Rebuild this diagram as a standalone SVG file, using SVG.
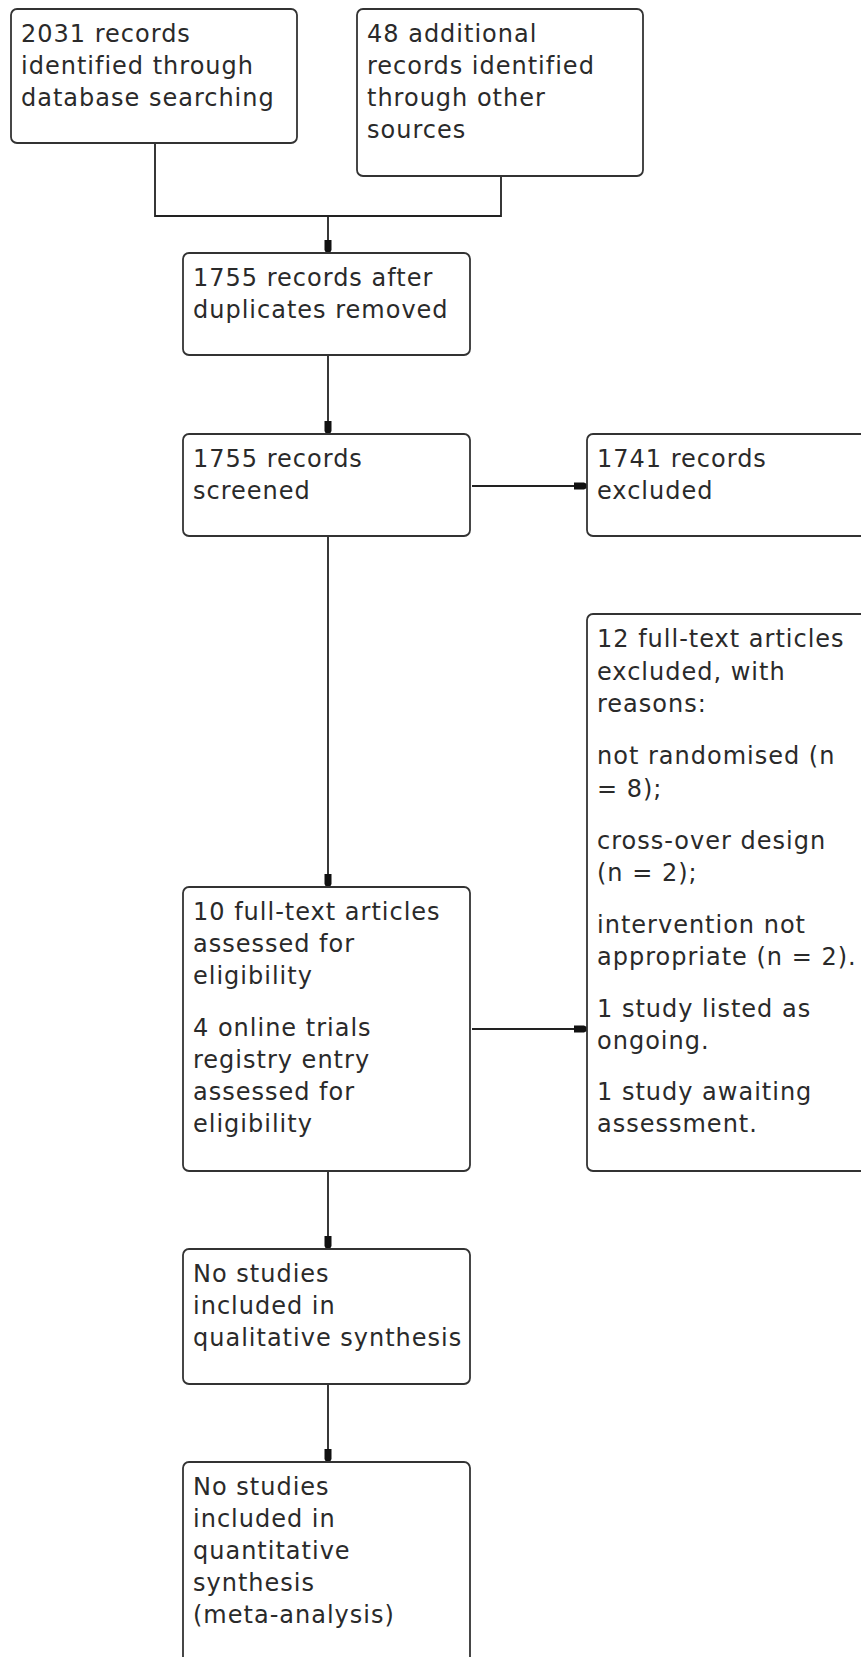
<svg xmlns="http://www.w3.org/2000/svg" width="861" height="1657" viewBox="0 0 861 1657">
<style>
.box{fill:#fff;stroke:#333;stroke-width:1.8}
.t{font-family:"DejaVu Sans",Verdana,sans-serif;font-size:24px;letter-spacing:1px;fill:#2a2a2a}
.c{fill:none;stroke:#222;stroke-width:1.8}
</style>
<defs>
<marker id="ah" viewBox="0 0 13 9" refX="13" refY="4.5" markerUnits="userSpaceOnUse" markerWidth="13" markerHeight="9" orient="auto">
<path d="M0,1 L10,1 L13,2.5 L13,6.5 L10,8 L0,8 Z" fill="#111"/>
</marker>
</defs>
<rect width="861" height="1657" fill="#fff"/>
<g id="connectors">
<path class="c" d="M155,143 V216 H501 V176"/>
<path class="c" d="M328,216 V253" marker-end="url(#ah)"/>
<path class="c" d="M328,355 V434" marker-end="url(#ah)"/>
<path class="c" d="M472,486 H587" marker-end="url(#ah)"/>
<path class="c" d="M328,536 V887" marker-end="url(#ah)"/>
<path class="c" d="M472,1029 H587" marker-end="url(#ah)"/>
<path class="c" d="M328,1171 V1249" marker-end="url(#ah)"/>
<path class="c" d="M328,1384 V1462" marker-end="url(#ah)"/>
</g>
<g id="n1">
<rect class="box" x="11" y="9" width="286" height="134" rx="6"/>
<text class="t" x="21" y="42">2031 records</text>
<text class="t" x="21" y="74">identified through</text>
<text class="t" x="21" y="106">database searching</text>
</g>
<g id="n2">
<rect class="box" x="357" y="9" width="286" height="167" rx="6"/>
<text class="t" x="367" y="42">48 additional</text>
<text class="t" x="367" y="74">records identified</text>
<text class="t" x="367" y="106">through other</text>
<text class="t" x="367" y="138">sources</text>
</g>
<g id="n3">
<rect class="box" x="183" y="253" width="287" height="102" rx="6"/>
<text class="t" x="193" y="286">1755 records after</text>
<text class="t" x="193" y="318">duplicates removed</text>
</g>
<g id="n4">
<rect class="box" x="183" y="434" width="287" height="102" rx="6"/>
<text class="t" x="193" y="467">1755 records</text>
<text class="t" x="193" y="499">screened</text>
</g>
<g id="n5">
<rect class="box" x="587" y="434" width="300" height="102" rx="6"/>
<text class="t" x="597" y="467">1741 records</text>
<text class="t" x="597" y="499">excluded</text>
</g>
<g id="n6">
<rect class="box" x="587" y="614" width="300" height="557" rx="6"/>
<text class="t" x="597" y="647">12 full-text articles</text>
<text class="t" x="597" y="680">excluded, with</text>
<text class="t" x="597" y="712">reasons:</text>
<text class="t" x="597" y="764">not randomised (n</text>
<text class="t" x="597" y="797">= 8);</text>
<text class="t" x="597" y="849">cross-over design</text>
<text class="t" x="597" y="881">(n = 2);</text>
<text class="t" x="597" y="933">intervention not</text>
<text class="t" x="597" y="965">appropriate (n = 2).</text>
<text class="t" x="597" y="1017">1 study listed as</text>
<text class="t" x="597" y="1049">ongoing.</text>
<text class="t" x="597" y="1100">1 study awaiting</text>
<text class="t" x="597" y="1132">assessment.</text>
</g>
<g id="n7">
<rect class="box" x="183" y="887" width="287" height="284" rx="6"/>
<text class="t" x="193" y="920">10 full-text articles</text>
<text class="t" x="193" y="952">assessed for</text>
<text class="t" x="193" y="984">eligibility</text>
<text class="t" x="193" y="1036">4 online trials</text>
<text class="t" x="193" y="1068">registry entry</text>
<text class="t" x="193" y="1100">assessed for</text>
<text class="t" x="193" y="1132">eligibility</text>
</g>
<g id="n8">
<rect class="box" x="183" y="1249" width="287" height="135" rx="6"/>
<text class="t" x="193" y="1282">No studies</text>
<text class="t" x="193" y="1314">included in</text>
<text class="t" x="193" y="1346">qualitative synthesis</text>
</g>
<g id="n9">
<rect class="box" x="183" y="1462" width="287" height="230" rx="6"/>
<text class="t" x="193" y="1495">No studies</text>
<text class="t" x="193" y="1527">included in</text>
<text class="t" x="193" y="1559">quantitative</text>
<text class="t" x="193" y="1591">synthesis</text>
<text class="t" x="193" y="1623">(meta-analysis)</text>
</g>
</svg>
